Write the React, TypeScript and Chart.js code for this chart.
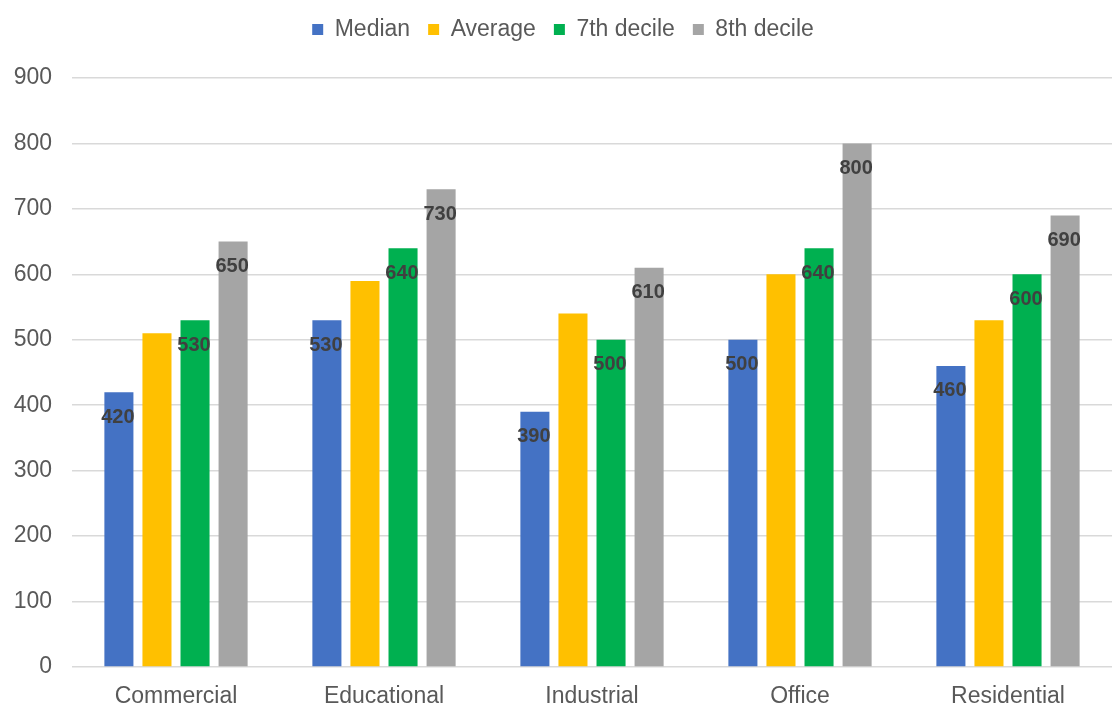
import { useEffect, useRef } from "react";
import { Chart, registerables } from "chart.js";

Chart.register(...registerables);

// Building types on the x axis
const categories = ["Commercial", "Educational", "Industrial", "Office", "Residential"];

// Series values per building type
const median = [420, 530, 390, 500, 460];
const average = [510, 590, 540, 600, 530];
const decile7 = [530, 640, 500, 640, 600];
const decile8 = [650, 730, 610, 800, 690];

const seriesNames = ["Median", "Average", "7th decile", "8th decile"];
const seriesColors = ["#4472C4", "#FFC000", "#00B050", "#A5A5A5"];
// Which series carry a value label on their bars
const seriesShowValues = [true, false, true, true];

// Value axis
const yMin = 0;
const yMax = 900;
const yStep = 100;

const FONT = "'Liberation Sans', Arial, Helvetica, sans-serif";
const TEXT = "#595959";

// Writes each bar's value just inside its top end
const valueLabels = {
  id: "valueLabels",
  afterDatasetsDraw(chart: any) {
    const ctx = chart.ctx;
    ctx.save();
    ctx.font = `bold 20px ${FONT}`;
    ctx.fillStyle = "#404040";
    ctx.textAlign = "center";
    ctx.textBaseline = "middle";
    chart.data.datasets.forEach((ds: any, i: number) => {
      if (!ds.showValues) return;
      const meta = chart.getDatasetMeta(i);
      meta.data.forEach((bar: any, j: number) => {
        ctx.fillText(String(ds.data[j]), bar.x - 1, bar.y + 25);
      });
    });
    ctx.restore();
  },
};

// Nudges the legend row slightly to the right
const legendShift = {
  id: "legendShift",
  afterLayout(chart: any) {
    if (chart.legend) {
      chart.legend.left += 7;
      chart.legend.right += 7;
    }
  },
};

export default function App() {
  const canvasRef = useRef<HTMLCanvasElement | null>(null);

  useEffect(() => {
    if (!canvasRef.current) return;
    const seriesData = [median, average, decile7, decile8];
    const chart = new Chart(canvasRef.current, {
      type: "bar",
      data: {
        labels: categories,
        datasets: seriesData.map((d, i) => ({
          label: seriesNames[i],
          data: d,
          backgroundColor: seriesColors[i],
          borderWidth: 0,
          categoryPercentage: 0.732,
          barPercentage: 0.763,
          showValues: seriesShowValues[i],
        })) as any,
      },
      options: {
        animation: false,
        responsive: true,
        maintainAspectRatio: false,
        layout: { padding: { left: 0, right: 7, top: 0, bottom: 0 } },
        plugins: {
          legend: {
            position: "top",
            labels: {
              boxWidth: 11,
              boxHeight: 11,
              padding: 18,
              color: TEXT,
              font: { family: FONT, size: 23 },
            },
          },
          tooltip: { enabled: false },
        },
        scales: {
          x: {
            grid: { display: false, drawTicks: false },
            border: { display: false },
            ticks: {
              color: TEXT,
              font: { family: FONT, size: 23 },
              padding: 16,
              maxRotation: 0,
            },
            afterFit: (s: any) => {
              s.height = 42;
            },
          },
          xTop: {
            type: "category",
            labels: categories,
            position: "top",
            grid: { display: false, drawTicks: false },
            border: { display: false },
            ticks: { display: false },
            afterFit: (s: any) => {
              s.height = 27;
            },
          },
          y: {
            min: yMin,
            max: yMax,
            ticks: {
              stepSize: yStep,
              color: TEXT,
              font: { family: FONT, size: 23 },
              padding: 20,
            },
            grid: { color: "#d9d9d9", lineWidth: 1.5, drawTicks: false },
            border: { display: false },
            afterFit: (s: any) => {
              s.width = 72;
            },
          },
        },
      } as any,
      plugins: [valueLabels, legendShift],
    });
    return () => chart.destroy();
  }, []);

  return (
    <div
      style={{
        position: "absolute",
        left: 0,
        top: 0,
        width: 1119,
        height: 709,
        background: "#ffffff",
      }}
    >
      <canvas ref={canvasRef} />
    </div>
  );
}
